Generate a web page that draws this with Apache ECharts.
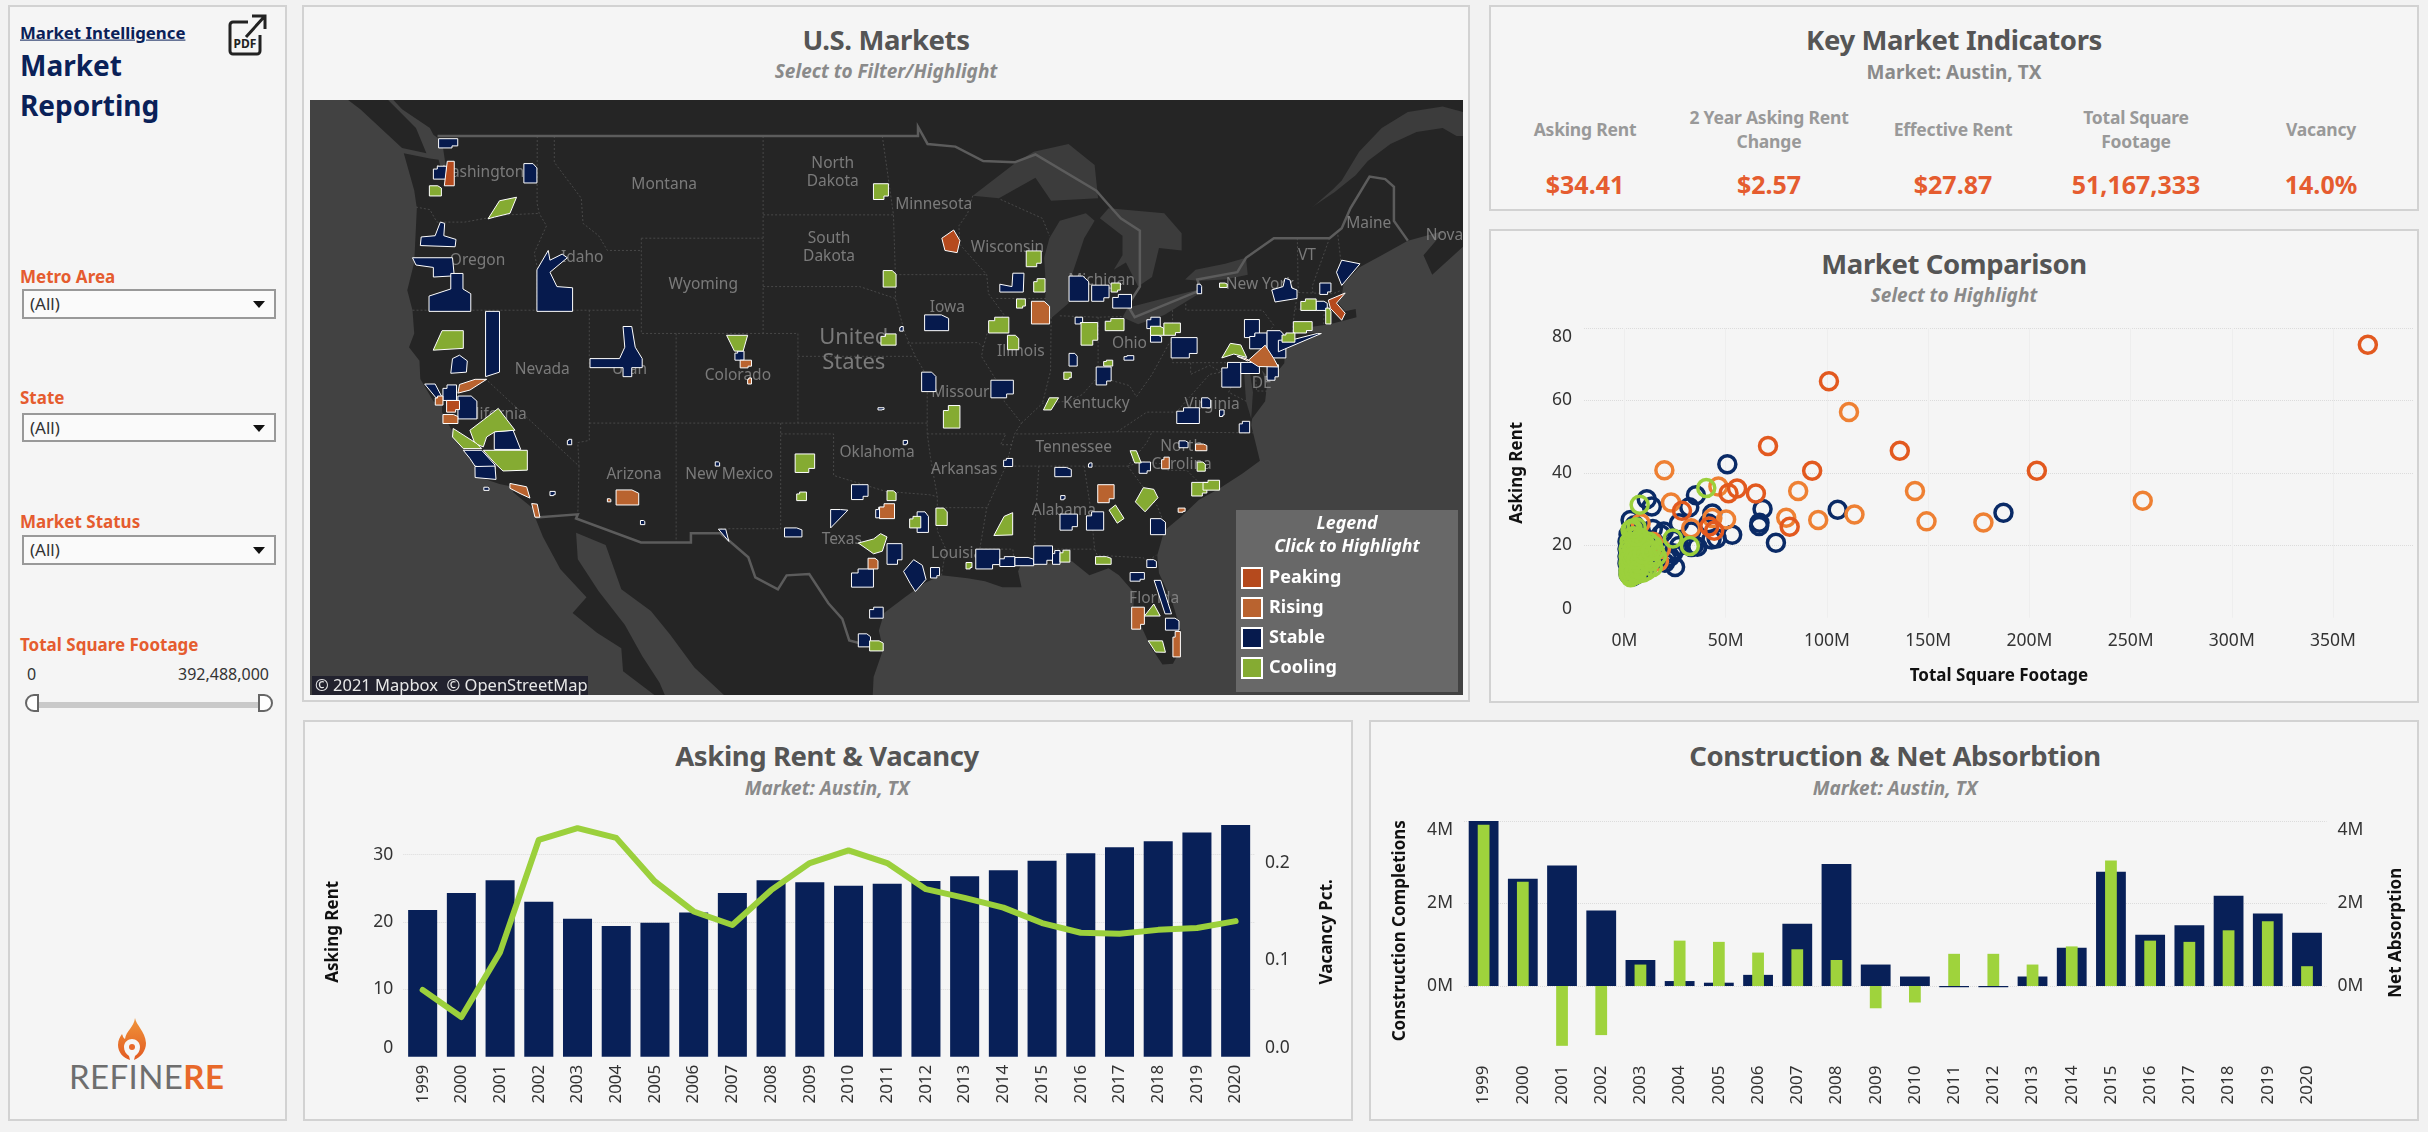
<!DOCTYPE html>
<html>
<head>
<meta charset="utf-8">
<title>Market Reporting</title>
<script src="https://cdn.jsdelivr.net/npm/echarts@6/dist/echarts.min.js"></script>
<style>
  html, body { margin: 0; padding: 0; background: #f2f2f2; }
  body { width: 2428px; height: 1132px; position: relative; overflow: hidden; font-family: "Noto Sans", sans-serif; }
  .panel { position: absolute; box-sizing: border-box; background: #f5f5f5; border: 2px solid #d2d2d2; }
  .t { position: absolute; white-space: nowrap; line-height: 1; }
  .c { text-align: center; transform: translate(-50%, -50%); }
  .l { transform: translateY(-50%); }
  .title { font-size: 27.5px; font-weight: 700; color: #555; letter-spacing: -0.4px; }
  .sub { font-size: 19px; font-weight: 700; color: #8a8a8a; }
  .it { font-style: italic; }
  .kl { font-size: 17.5px; font-weight: 700; color: #999; line-height: 24px; letter-spacing: -0.2px; }
  .kv { font-size: 25px; font-weight: 700; color: #e55c2f; }
  .flt { font-size: 17px; font-weight: 700; color: #e55c2f; }
  .sel { position: absolute; left: 22px; width: 254px; box-sizing: border-box; background: #fafafa; border: 2px solid #999; font-size: 17px; color: #333; padding-left: 6px; }
  .sel i { position: absolute; right: 9px; top: 50%; margin-top: -3px; border: 6px solid transparent; border-top: 7px solid #111; border-bottom: 0; }
  #dash { position: absolute; left: 0; top: 0; width: 2428px; height: 1132px; }
</style>
</head>
<body>

<div class="panel" style="left:8px;top:5px;width:279px;height:1116px"></div>
<div class="panel" style="left:302px;top:5px;width:1168px;height:697px"></div>
<div class="panel" style="left:1489px;top:5px;width:930px;height:206px"></div>
<div class="panel" style="left:1489px;top:229px;width:930px;height:474px"></div>
<div class="panel" style="left:303px;top:720px;width:1050px;height:401px"></div>
<div class="panel" style="left:1369px;top:720px;width:1050px;height:401px"></div>

<div class="t l" style="left:20px;top:33px;font-size:16.8px;font-weight:700;color:#0a2158;text-decoration:underline">Market Intelligence</div>
<div class="t l" style="left:20px;top:65px;font-size:28px;font-weight:700;color:#0a2158">Market</div>
<div class="t l" style="left:20px;top:105px;font-size:28px;font-weight:700;color:#0a2158">Reporting</div>
<svg style="position:absolute;left:228px;top:13px" width="40" height="44" viewBox="0 0 40 44">
  <path d="M20 9H5a3 3 0 0 0-3 3v26a3 3 0 0 0 3 3h24a3 3 0 0 0 3-3V22" fill="none" stroke="#222" stroke-width="3"/>
  <path d="M18 24L36 4M24 3h13v13" fill="none" stroke="#222" stroke-width="3"/>
  <text x="17" y="35" text-anchor="middle" font-size="12" font-weight="700" font-family="Noto Sans" fill="#222">PDF</text>
</svg>

<div class="t l flt" style="left:20px;top:276px">Metro Area</div>
<div class="sel" style="top:289px;height:30px;line-height:26px">(All)<i></i></div>
<div class="t l flt" style="left:20px;top:397px">State</div>
<div class="sel" style="top:413px;height:29px;line-height:25px">(All)<i></i></div>
<div class="t l flt" style="left:20px;top:521px">Market Status</div>
<div class="sel" style="top:535px;height:30px;line-height:26px">(All)<i></i></div>
<div class="t l flt" style="left:20px;top:644px">Total Square Footage</div>
<div class="t l" style="left:27px;top:674px;font-size:16px;color:#333">0</div>
<div class="t l" style="right:2159px;top:674px;font-size:16px;color:#333">392,488,000</div>
<div style="position:absolute;left:39px;top:702px;width:220px;height:6px;background:#c9c9c9"></div>
<div style="position:absolute;left:25px;top:694px;width:14px;height:18px;box-sizing:border-box;background:#fff;border:2px solid #666;border-radius:9px 0 0 9px"></div>
<div style="position:absolute;left:258px;top:694px;width:15px;height:18px;box-sizing:border-box;background:#fff;border:2px solid #666;border-radius:0 9px 9px 0"></div>

<svg style="position:absolute;left:116px;top:1017px" width="32" height="44" viewBox="0 0 32 44">
  <defs><linearGradient id="fl" x1="0" y1="0" x2="0" y2="1"><stop offset="0" stop-color="#f0953a"/><stop offset="1" stop-color="#e25a22"/></linearGradient></defs>
  <path d="M19 1c1 7 10 13 11 25 0 8-5 14-12 17l1-4c3-2 5-5 5-9 0-5-4-8-8-8s-8 3-8 8c0 4 2 7 5 9l1 4C7 41 2 35 2 28c0-5 2-8 4-11 1 2 1 4 3 5 1-8 9-12 10-21z" fill="url(#fl)"/>
  <circle cx="16" cy="30" r="3" fill="#e8692a"/>
</svg>
<div class="t" style="left:69px;top:1060px;font-size:33px;font-family:Lato;letter-spacing:0.4px;color:#6e6e6e">REFINE<span style="font-weight:700;color:#e8692a">RE</span></div>

<div class="t c title" style="left:886px;top:40px">U.S. Markets</div>
<div class="t c sub it" style="left:886px;top:71px">Select to Filter/Highlight</div>
<div class="t c title" style="left:1954px;top:40px">Key Market Indicators</div>
<div class="t c sub" style="left:1954px;top:72px">Market: Austin, TX</div>
<div class="t c title" style="left:1954px;top:264px">Market Comparison</div>
<div class="t c sub it" style="left:1954px;top:295px">Select to Highlight</div>
<div class="t c title" style="left:827px;top:756px">Asking Rent &amp; Vacancy</div>
<div class="t c sub it" style="left:827px;top:788px">Market: Austin, TX</div>
<div class="t c title" style="left:1895px;top:756px">Construction &amp; Net Absorbtion</div>
<div class="t c sub it" style="left:1895px;top:788px">Market: Austin, TX</div>

<div id="kpis"></div>
<div id="dash"></div>

<script type="text/javascript">
// key market indicators
var kpiLabels = ['Asking Rent', '2 Year Asking Rent<br>Change', 'Effective Rent', 'Total Square<br>Footage', 'Vacancy'];
var kpiValues = ['$34.41', '$2.57', '$27.87', '51,167,333', '14.0%'];
var kpiCenters = [1585, 1769, 1953, 2136, 2321];

// time series, Austin TX
var years = ['1999','2000','2001','2002','2003','2004','2005','2006','2007','2008','2009','2010','2011','2012','2013','2014','2015','2016','2017','2018','2019','2020'];
var askingRent = [21.8,24.3,26.2,23,20.5,19.4,19.9,21.4,24.3,26.2,25.9,25.4,25.7,26.1,26.8,27.7,29.1,30.2,31.1,32,33.3,34.41];
var vacancy = [.069,.041,.108,.224,.236,.226,.181,.15,.136,.172,.2,.213,.2,.173,.164,.154,.138,.128,.127,.131,.133,.14];
var completions = [4,2.6,2.92,1.83,.63,.12,.08,.27,1.51,2.96,.52,.23,-.03,-.03,.23,.93,2.77,1.24,1.47,2.19,1.76,1.29];
var absorption = [3.91,2.53,-1.45,-1.19,.52,1.1,1.07,.81,.89,.63,-.54,-.4,.78,.78,.52,.96,3.04,1.1,1.07,1.35,1.57,.48];

// market comparison: [total sq ft in millions, asking rent]
var sqftTicks = [0,50,100,150,200,250,300,350];
var cmpStable = [[50.8,42.4],[35.3,33.8],[32,30.5],[11,32.7],[13.5,30.7],[68.2,30],[66.7,26.2],[66.5,25.3],[105.3,29.8],[187.2,29],[74.8,20.7],[53.2,22.9],[43.4,28.8],[45.5,21.9],[43,21.6],[41.5,26],[34.4,20.1],[33,19.5],[23.9,21.5],[19.4,23.8],[26.9,26.1],[32.9,23.8],[3,27],[5,25.5],[20.9,16.4],[20,15.2],[15,20.6],[17.9,18.7],[24,17.8],[22.5,16.8],[27,19.8],[36,19.6],[16,16],[12,14.5],[10,22],[8,24],[2,23],[1.5,21],[1.5,19],[1.5,17],[1.5,15],[2,13],[2,12],[3,11.6],[4,11.4],[6,12],[8,13],[10,15],[12,18],[13,20],[9,19],[7,17],[5,15],[4,13],[3,20],[4,22],[6,24],[14,24.5],[18,23],[25,14]];
var cmpRising = [[110.9,56.8],[19.7,40.7],[85.8,35],[143.5,35],[23,31.8],[256,32.3],[113.6,28.5],[95.7,27],[79.9,27.6],[149.2,26.6],[177.3,26.3],[50.2,27.1],[43.4,27.5],[32.9,24.7],[8,26.1],[46.4,36.2],[14,21],[18,19],[17,15.5]];
var cmpPeaking = [[367.2,75.4],[101,65.3],[70.9,47.4],[136,46.1],[92.7,40.6],[203.7,40.6],[64.9,34.3],[55.6,35.7],[51.4,34.4],[28.4,29.5],[81.6,25.1],[41.9,25.2],[44.3,24]];
var cmpCooling = [[40.4,35.8],[7.5,31.2],[23.9,21.9],[32.3,19.8],[3,24.2],[6,25],[8,22],[12,21],[14,20],[15,18.5],[16,17],[13,15.5],[14,14],[11,13],[9,12.4],[6,12],[4,11.6],[3,11.2],[2,12],[2,13],[2,15],[2,17],[2,19],[2.5,21],[4,22.5],[5,21],[6,19.5],[7,18],[8,16.5],[9,15],[10,17],[11,19],[3,17],[4,15.5],[5,14],[6,13],[3,13],[2.5,16],[4,19],[7,15],[8,20],[10,20.5],[5,17],[12,16.5],[6,16],[5,12.6],[7,13.4],[9,17.6],[6,22.4],[4,24.6],[13,18.4]];

// map frame and base geography, all lon/lat
var frame = [[-130.09,23.56],[-63.83,23.56],[-63.83,50.34],[-130.09,50.34]];
var landRing = [[-125.3,50.34],[-124.8,50],[-123.2,49.3],[-123,49.05],[-122.5,48.8],[-122.3,47.9],[-122.4,47.4],[-122.7,48.1],[-123.2,48.15],[-124.7,48.35],[-124.1,46.9],[-123.95,46.2],[-124.1,44],[-124.5,42.85],[-124.2,42],[-124.1,41],[-124.4,40.4],[-123.8,39.8],[-123.75,39],[-123,38],[-122.5,37.8],[-122.5,37.5],[-121.9,36.6],[-120.65,35.15],[-120.6,34.55],[-119.2,34.15],[-118.5,34.03],[-118.4,33.75],[-117.3,33],[-117.15,32.55],[-116.7,31.6],[-115.7,30],[-114.2,28.6],[-115,27.8],[-113.6,26.8],[-112.2,26],[-112.1,24.8],[-110.3,23.56],[-109.7,23.56],[-110,24.2],[-111,25.6],[-112,27.2],[-113.5,28.9],[-114.7,30.5],[-114.8,31.8],[-113.1,31.2],[-112.2,29],[-110.5,27.9],[-109.4,26.7],[-108,25],[-106.3,23.56],[-97.75,23.56],[-97.7,24.5],[-97.15,25.95],[-97.4,26.9],[-97.1,27.8],[-95.9,28.6],[-94.8,29.3],[-93.8,29.7],[-92.3,29.55],[-91.3,29.4],[-90.3,29.1],[-89.2,29.1],[-89.4,29.9],[-89.2,30.3],[-88,30.25],[-86.3,30.4],[-85.3,29.7],[-84.2,30.05],[-83.6,29.7],[-82.7,28.8],[-82.8,27.9],[-82.2,26.9],[-81.8,26.1],[-81.1,25.15],[-80.5,25.2],[-80.2,25.7],[-80.05,26.9],[-80.55,28.4],[-81.3,29.8],[-81.4,30.7],[-81,31.9],[-80,32.6],[-79,33.4],[-77.9,33.9],[-76.5,34.65],[-75.5,35.25],[-76,36.9],[-75.95,37.2],[-75.2,38],[-75.1,38.7],[-75.4,39.4],[-74.9,38.95],[-74.1,39.7],[-74.05,40.4],[-73.9,40.55],[-71.9,41.05],[-73.7,40.95],[-72.9,41.25],[-71.5,41.4],[-70.7,41.55],[-69.95,41.7],[-70,42.05],[-70.6,41.95],[-71,42.3],[-70.8,42.6],[-70.7,43.1],[-69.8,43.8],[-68.5,44.3],[-67,44.9],[-64.9,45.3],[-66.1,44.3],[-65.6,43.5],[-63.83,44.65],[-63.83,50.34]];
var islandRing = [[-123.4,48.35],[-124.8,48.55],[-127.2,50],[-127.9,50.34],[-125.6,50.34],[-124,49.3]];
var waterRings = [
  [[-92,46.7],[-90.5,46.6],[-88.4,47.4],[-87.5,46.5],[-84.8,46.6],[-85,47.9],[-86.5,48.7],[-88.5,48.4],[-89.5,48]],
  [[-87.9,41.7],[-87.5,41.65],[-86.5,42.3],[-86.3,43.5],[-85.6,45],[-85,45.7],[-85.5,46],[-87,45.7],[-87.6,45],[-87.9,44.2],[-87.8,43]],
  [[-84.7,45.8],[-83.4,45.1],[-83.4,44.3],[-83.9,43.7],[-83.2,44],[-82.5,43],[-81.7,43.4],[-81.3,44.6],[-80,44.5],[-80,45.2],[-81,46],[-84.2,46.2]],
  [[-83.4,41.7],[-82.5,41.4],[-81,41.8],[-79,42.7],[-78.9,42.9],[-80.5,42.6],[-83.1,42.1]],
  [[-79.8,43.3],[-79,43.25],[-77.5,43.3],[-76.2,43.5],[-76.3,44.2],[-77.5,43.95],[-79.2,43.7]],
  [[-72.6,46.2],[-71.2,46.85],[-70,47.5],[-69.3,48.05],[-68,48.7],[-66.5,49.15],[-65,49.3],[-64.2,49],[-63.83,49],[-63.83,49.9],[-65,50.1],[-67,49.9],[-68.5,49.3],[-69.8,48.4],[-70.8,47.3],[-71.3,46.95],[-72.3,46.35]],
  [[-76.3,38],[-76.4,39.2],[-76.1,39.4],[-75.9,38.4],[-76,37.2]]
];
var nationLines = [
  [[-122.76,49],[-95.15,49],[-95.15,49.35],[-94.6,48.7],[-93,48.6],[-91.4,48.05],[-89.6,48],[-88.4,48.3],[-84.9,46.9],[-84.4,46.5],[-83.5,45.8],[-82.4,45.3],[-82.4,43],[-83.1,42.2],[-82.7,41.7],[-78.9,42.85],[-79.1,43.3],[-76.8,43.6],[-76.3,44.2],[-74.7,45],[-71.5,45],[-70.8,45.4],[-70.3,46.2],[-69.2,47.45],[-68.3,47.35],[-67.8,47.05],[-67.8,45.7],[-67,44.9]],
  [[-117.1,32.55],[-114.7,32.7],[-114.8,32.5],[-111.07,31.33],[-108.2,31.33],[-108.2,31.78],[-106.5,31.78],[-104.9,30.6],[-104.5,29.6],[-103.2,29],[-102.7,29.7],[-101.4,29.77],[-100.3,28.3],[-99.5,27.5],[-99.1,26.4],[-97.15,25.95]]
];
var stateLines = [
  [[-124,46.25],[-123.2,46.15],[-122.8,45.65],[-121.2,45.65],[-119,45.93],[-116.92,46]],
  [[-117.03,49],[-117.04,46.4],[-116.92,46],[-116.5,45.5],[-117.2,44.4],[-117.03,43.8],[-117.03,42]],
  [[-116.05,49],[-116.05,48],[-114.5,46.6],[-114.4,45.6],[-113.5,45.1],[-113,44.5],[-111.05,44.5]],
  [[-104.05,49],[-104.05,41]],
  [[-111.05,45],[-104.05,45]],
  [[-111.05,45],[-111.05,41],[-102.05,41],[-102.05,37]],
  [[-124.2,42],[-111.05,42]],
  [[-114.04,42],[-114.04,36.2],[-114.7,36.1],[-114.63,35]],
  [[-109.05,41],[-109.05,31.33]],
  [[-114.04,37],[-94.62,37]],
  [[-104.05,43],[-98.5,43],[-96.45,42.5]],
  [[-104.05,45.94],[-96.56,45.94]],
  [[-97.2,49],[-96.56,45.94],[-96.45,43.5],[-96.45,42.5],[-95.9,41],[-95.3,40],[-94.62,39.1],[-94.62,36.5],[-94.43,35.4],[-94.04,33.55],[-94.04,31.9],[-93.55,31],[-93.8,29.7]],
  [[-96.45,43.5],[-91.2,43.5]],
  [[-95.77,40.58],[-91.7,40.6],[-91.4,40.4]],
  [[-102.05,40],[-95.3,40]],
  [[-103.04,37],[-103.04,32],[-106.6,32],[-106.5,31.78]],
  [[-103.04,36.5],[-100,36.5],[-100,34.56],[-97,33.8],[-94.48,33.64],[-94.04,33.55]],
  [[-120,42],[-120,39],[-114.63,35],[-114.7,32.7]],
  [[-92,46.7],[-92.3,46],[-92.8,45.5],[-92.75,44.75],[-91.2,43.5],[-91.1,42.7],[-90.2,41.8],[-91.1,41.2],[-91.4,40.4],[-91.5,40],[-90.7,39],[-90.2,38.7],[-90.2,38],[-89.2,37],[-89.6,36.5],[-90.1,35],[-91.2,33],[-91.6,31],[-89.7,31],[-89.6,30.2]],
  [[-90.65,42.5],[-87.8,42.5]],
  [[-90.4,46.55],[-88,45.8],[-87.6,45.1]],
  [[-87.5,41.7],[-87.53,39.35],[-88,37.9]],
  [[-89.2,37],[-88,37.9],[-86.5,38],[-85.7,38.3],[-84.8,39.1],[-83,38.7],[-82.6,38.2],[-81.7,39.2],[-80.7,40.6],[-80.52,40.64]],
  [[-84.8,41.7],[-84.8,39.1]],
  [[-87,41.76],[-84.8,41.7],[-83.45,41.73]],
  [[-80.52,42],[-80.52,39.72],[-75.79,39.72],[-75.7,38.46],[-75.05,38.45]],
  [[-79.76,42.27],[-79.76,42],[-75.35,42],[-74.7,41.35],[-75.1,40.95],[-75.2,40.6],[-74.7,40.15],[-75.55,39.6]],
  [[-73.35,45],[-73.3,42.75],[-73.5,42.05],[-73.65,41]],
  [[-73.3,42.75],[-71.3,42.7],[-70.8,42.85]],
  [[-73.5,42.05],[-71.4,42]],
  [[-71.5,45],[-72.5,43],[-72.45,42.73]],
  [[-71.05,45.3],[-70.7,43.1]],
  [[-71.8,42],[-71.85,41.3]],
  [[-89.5,36.5],[-88,36.5],[-83.7,36.6],[-81.7,36.6],[-75.9,36.55]],
  [[-83.7,36.6],[-82,37.5],[-80.3,37.5],[-78.4,39.2],[-77.7,39.3]],
  [[-79.48,39.72],[-79.48,39.2],[-78.4,39.6],[-77.7,39.3],[-77,38.9],[-77.3,38.4],[-76.3,38]],
  [[-90.3,35],[-83.1,35],[-82,36.1],[-81.7,36.6]],
  [[-83.1,35],[-82.3,35.2],[-81,35.1],[-80.8,34.8],[-79.7,34.8],[-78.55,33.85]],
  [[-83.1,35],[-81.4,33.1],[-80.9,32.05]],
  [[-85.6,35],[-85.2,32.8],[-85,31],[-84.85,30.7],[-82.2,30.57],[-82,30.4],[-81.45,30.7]],
  [[-88.2,35],[-88.45,31.9],[-88.4,30.3]],
  [[-87.6,31],[-85,31]],
  [[-87.6,31],[-87.45,30.35]],
  [[-94.62,36.5],[-90.1,36.5],[-90.4,36],[-89.7,36]],
  [[-94.04,33.02],[-91.2,33.02]]
];
var placeLabels = [['Washington',-120.29,47.6],['Montana',-109.74,47.13],['North\nDakota',-100.05,47.6],['Minnesota',-94.25,46.35],['South\nDakota',-100.26,44.6],['Wisconsin',-90.01,44.6],['Oregon',-120.46,44.1],['Idaho',-114.45,44.2],['Wyoming',-107.49,43.1],['Michigan',-84.6,43.25],['New York',-75.5,43.1],['VT',-72.8,44.3],['Maine',-69.25,45.6],['Nova',-64.9,45.1],['Iowa',-93.47,42.1],['Ohio',-83,40.55],['Illinois',-89.24,40.2],['Nevada',-116.74,39.4],['Utah',-111.73,39.4],['Colorado',-105.5,39.15],['Missouri',-92.6,38.4],['Kentucky',-84.9,37.9],['Virginia',-78.25,37.85],['California',-119.64,37.4],['DE',-75.4,38.8],['Oklahoma',-97.5,35.65],['Tennessee',-86.2,35.85],['North\nCarolina',-80,35.5],['Arizona',-111.47,34.6],['New Mexico',-106,34.6],['Arkansas',-92.5,34.85],['Alabama',-86.77,32.9],['Texas',-99.53,31.45],['Louisiana',-92.4,30.8],['Florida',-81.58,28.55]];
var countryLabel = ['United\nStates',-98.84,40.25];

// market footprints: four numbers are a box (west, south, east, north), more are an outline (lon, lat, ...)
var mapStable = [
  [-122.7,48.55,-121.6,48.9],[-123,47.35,-122.25,47.85],[-117.8,47.2,-117.05,47.95],
  [-122.9,45.1,-122.6,45.65,-122.35,45.6,-122.4,45.1,-121.7,44.95,-121.75,44.65,-123.75,44.7,-123.7,45.05],
  [-124.2,44.2,-121.9,44.2,-121.8,43.45,-123,43.4,-123,43.8,-124,43.9],
  [-123.25,41.95,-120.85,41.95,-120.85,42.7,-121.3,42.9,-121.3,43.55,-122,43.55,-122,42.9,-123.25,42.6],
  [-117.05,41.95,-115,41.95,-115,42.95,-115.9,43,-116.3,43.6,-115.3,44.2,-115.6,44.35,-116.3,44.1,-116.4,44.5,-117.05,43.7],
  [-120,41.95,-119.2,41.95,-119.2,39.3,-120,39.1],
  [-122,39.25,-121.1,39.3,-121.05,39.8,-121.5,40.05,-121.9,39.9],
  [-123.5,38.77,-122.9,38.77,-122.45,38.1,-122.85,38.15],[-122.45,38.03,-121.67,38.73],[-121.59,37.19,-120.5,38.23],
  [-119.5,36.6,-118.42,36.67,-117.98,35.78,-119.5,35.78],
  [-121.28,35.74,-120.22,35.74,-119.46,35.05,-119.46,34.85,-120.61,35,-120.9,35.36],
  [-120.61,34.98,-119.46,35,-119.4,34.37,-120.6,34.46],
  [-114,39.5,-112.1,39.5,-112.1,39.1,-111.6,39.1,-111.6,39.5,-111,39.5,-111,39.9,-111.4,40.4,-111.6,41.3,-112.1,41.3,-112,40.4,-112.3,39.9,-114,39.9],
  [-105.67,39.83,-105.15,40.23],[-94.94,38.43,-94.12,39.3],[-90.96,38.15,-89.67,38.94],
  [-90.45,42.77,-89.1,42.77,-89.06,43.56,-89.7,43.56,-89.75,43,-90.45,43.1],
  [-86.47,42.38,-85.34,43.44],[-85.17,42.38,-84.17,43.06],[-83.96,42.09,-82.88,42.67],[-94.77,41.12,-93.39,41.8],
  [-86.12,41.41,-85.69,41.7],[-83.31,39.83,-82.75,40.03],[-86.47,39.57,-86,40.13],[-84.91,38.73,-84.05,39.53],
  [-82,41.21,-81.23,41.7],[-81.79,40.62,-81.15,40.92],[-80.6,39.93,-79.11,40.82],
  [-74.82,42.86,-74.17,43,-74.06,43.35,-73.77,43.28,-73.67,42.94,-73.37,42.86,-73.37,42.5,-74.63,42.35],
  [-79.11,42.7,-78.85,43.1],[-72.06,42.67,-71.42,43.15],[-70.8,44.1,-69.75,43.95,-70.8,43.05,-71.1,43.6],
  [-72.27,41.99,-71.63,42.38],[-76.39,40.82,-75.53,41.6],[-76.09,40.33,-75.09,41.02],[-75.09,39.93,-74.01,41.12],
  [-74.44,40.2,-71.97,41,-72.2,41,-73.5,40.75,-74.44,40.7],
  [-77.69,38.63,-76.6,39.73],[-76.6,39.24,-75.53,39.73],[-75.09,38.94,-74.44,39.63],[-80.28,36.98,-78.98,37.7],
  [-78.85,37.7,-78.33,38.15],[-77.82,37.3,-77.56,37.6],[-76.69,36.55,-76.09,37.08],[-80.15,35.86,-79.63,36.18],
  [-82.44,34.66,-81.79,35.19],[-90.23,34.98,-89.71,35.36],[-87.29,34.5,-86.34,34.94],[-86.99,31.93,-85.99,32.71],
  [-85.47,31.93,-84.48,32.82],[-81.79,31.71,-80.93,32.49],[-98.97,33.41,-98.02,34.12],
  [-100.17,32.04,-99.18,32.9,-99.6,32.93,-100.17,32.93],[-102.82,31.6,-101.82,32.04],[-106.62,31.98,-106.02,31.38,-106.2,31.98],
  [-97.58,32.53,-97.02,33.04],[-95.2,31.82,-94.55,32.82],[-96.93,30.25,-96.07,31.27],[-98.97,29.11,-97.71,30.02],
  [-95.98,29.9,-95.4,30.48,-94.9,30.2,-94.69,29.5,-95.3,28.89,-95.6,29.3],
  [-94.43,29.57,-93.91,30.09],[-97.93,27.54,-97.15,28.1],[-98.58,26.07,-97.88,26.74],[-91.83,30.02,-90.45,31],
  [-90.45,30.14,-89.58,30.63],[-89.58,30.18,-88.5,30.59],[-88.5,30.25,-87.42,31.16],[-87.42,30.25,-86.99,30.93],
  [-82,30.09,-81.45,30.48],[-82.96,29.41,-82.14,29.84],[-81.58,29.45,-81.2,29.45,-80.58,27.76,-80.95,27.76],[-80.93,26.93,-80.15,27.54],
  [-97.45,37.6,-97.1,37.7],[-96.2,41.1,-96,41.3],[-106.8,35,-106.55,35.2],[-96,36,-95.75,36.2],[-115.3,36,-115.05,36.25],[-111.1,32.2,-110.85,32.4],
  [-86.95,33.4,-86.7,33.6],[-85.35,34.95,-85.15,35.15],[-120.1,33.85,-119.8,34],[-116.3,33.6,-116,33.8]
];
var mapRising = [
  [-121.59,38.36,-120.9,38.5,-119.94,38.98,-120.6,38.98,-121.5,38.75],
  [-122.89,37.82,-122.45,38.23],[-122.45,36.98,-121.59,37.39],
  [-118.6,34.18,-117.64,34.02,-117.45,33.48,-118.02,33.7,-118.6,33.95],[-117.35,33.22,-117.03,33.19,-116.88,32.56,-117.16,32.56],
  [-112.5,33.15,-111.2,33.87],[-105.37,39.49,-104.72,39.83],[-104.94,38.77,-104.72,39.04],[-88.63,41.41,-87.59,42.38],
  [-76.82,40,-76.2,39.8,-75.2,40.49,-74.7,39.9,-74.44,39.53,-75.6,39.55,-76.3,39.9],
  [-97.36,32.49,-96.5,33.21],[-98.02,30.02,-97.45,30.55],[-84.82,33.26,-83.88,34.12],[-81.15,34.87,-80.71,35.42],
  [-79.2,35.72,-78.55,36.03],[-82.87,26.98,-82.14,28.1],[-80.5,25.55,-80.07,26.86],[-113,33.3,-112.8,33.45],[-80.2,32.8,-79.8,33]
];
var mapPeaking = [
  [-93.78,45,-93.1,45.33,-92.74,44.9,-92.9,44.41,-93.6,44.5],
  [-122.37,47.09,-121.8,47.09,-121.8,48.04,-122.2,48.04],
  [-71.57,42.43,-70.6,42.73,-71.1,42.3,-70.6,41.87,-70.8,41.57,-71.45,42.08],
  [-122.24,37.5,-121.5,38.03]
];
var mapCooling = [
  [-97.71,46.55,-96.85,47.17],[-119.86,45.78,-119.2,46.5,-118.22,46.64,-118.6,46,-119.5,45.85],[-123.23,46.69,-122.54,47.09],
  [-88.93,43.83,-88.07,44.48],[-88.5,42.77,-87.85,43.33],[-97.15,42.98,-96.41,43.67],[-84.05,42.77,-83.52,43.15],
  [-73.15,41.99,-72.27,42.48],[-77.82,42.96,-77.38,43.15],[-89.49,42.09,-88.98,42.48],[-91.09,41.02,-89.93,41.7],
  [-90.01,40.29,-89.36,40.92],[-85.78,40.49,-84.82,41.47],[-84.39,41.12,-83.31,41.64],[-81.79,40.92,-81.02,41.31],
  [-81.02,40.92,-80.07,41.45],[-97.28,40.49,-96.41,40.98],[-106.15,40.92,-104.94,40.92,-105.2,40.23,-105.7,40.23],
  [-123.01,40.27,-121.28,40.35,-121.28,41.12,-122.5,41.12],
  [-119.27,37.67,-118.31,36.67,-119.46,36.6,-119.94,36.36,-120.13,35.9,-120.61,36.05,-120.9,36.67,-120.13,37.14],
  [-121.86,36.75,-120.5,36.05,-120.22,35.82,-121.28,35.82,-121.9,36.36],
  [-120.13,35.74,-117.6,35.74,-117.6,34.81,-119,34.77,-119.46,35.13],
  [-93.69,36.77,-92.74,37.8],[-87.94,37.6,-87.5,37.6,-87.07,38.15,-87.6,38.15],[-86.77,38.98,-86.34,39.3],[-84.48,39.57,-83.96,39.83],
  [-77.69,39.93,-77,40.1,-76.26,39.95,-76.6,40.5,-77.2,40.57],[-102.21,34.7,-101.09,35.57],[-102.12,33.36,-101.56,33.77],[-96.93,33.36,-96.41,33.83],
  [-98.58,31.3,-97.7,31.5,-97.3,31.76,-96.93,31.6,-97.2,30.9,-97.7,30.77],
  [-95.63,32.04,-94.99,32.6],[-94.12,32.16,-93.47,33],[-90.79,31.67,-89.71,31.7,-89.71,32.78,-90.2,32.6],[-86.99,30.36,-86.42,30.95],
  [-84.95,30.25,-84.05,30.63],[-82.66,33.3,-82.2,33.98,-81.6,33.9,-81.36,33.5,-82.1,32.82],[-84.17,32.9,-83.8,33.15,-83.31,32.5,-83.7,32.27],
  [-82.96,35.72,-82.6,35.72,-82.32,35.15,-82.7,35.15],[-79.42,33.58,-78.55,34.23],[-78.77,33.86,-77.82,34.33],[-79.11,34.76,-78.64,35.19],
  [-82.14,27.65,-81.23,27.65,-81.6,28.26],[-81.92,26.38,-81.5,25.8,-80.93,25.79,-81.1,26.38],[-97.93,25.86,-97.15,26.38],
  [-73.58,41.02,-72.5,41.51],[-74.23,40.62,-73.49,41.02],[-71.72,41.41,-71.42,42.09],[-92.39,30.02,-92.05,30.34]
];

function mercator(lat) {
  return Math.log(Math.tan(Math.PI / 4 + lat * Math.PI / 360)) * 180 / Math.PI;
}
function feature(name, ring) {
  return { type: 'Feature', properties: { name: name }, geometry: { type: 'Polygon', coordinates: [ring] } };
}
var features = [feature('sea', frame), feature('land', landRing), feature('island', islandRing)];
waterRings.forEach(function (r, i) { features.push(feature('water' + i, r)); });
echarts.registerMap('base', { type: 'FeatureCollection', features: features });

// outline for a market entry; boxes get a small clipped corner so they read as county blocks
function marketRing(m, i) {
  var pts = [], k;
  if (m.length === 4) {
    var dx = (m[2] - m[0]) * 0.3, dy = (m[3] - m[1]) * 0.22;
    if (i % 3 === 0) pts = [[m[0],m[1]],[m[2]-dx,m[1]],[m[2]-dx,m[1]+dy],[m[2],m[1]+dy],[m[2],m[3]],[m[0],m[3]]];
    else if (i % 3 === 1) pts = [[m[0],m[1]],[m[2],m[1]],[m[2],m[3]],[m[0]+dx,m[3]],[m[0]+dx,m[3]-dy],[m[0],m[3]-dy]];
    else pts = [[m[0],m[1]],[m[2],m[1]],[m[2],m[3]-dy],[m[2]-dx,m[3]],[m[0],m[3]]];
  } else {
    for (k = 0; k < m.length; k += 2) pts.push([m[k], m[k + 1]]);
  }
  return pts;
}
function marketSeries(name, color, shapes) {
  var rings = shapes.map(marketRing);
  return {
    name: name, type: 'custom', coordinateSystem: 'geo', z: 6, silent: true,
    itemStyle: { color: color },
    data: rings.map(function (r) { return [r[0][0], r[0][1]]; }),
    renderItem: function (params, api) {
      return {
        type: 'polygon',
        shape: { points: rings[params.dataIndex].map(function (p) { return api.coord(p); }) },
        style: { fill: color, stroke: '#fff', lineWidth: 1 }
      };
    }
  };
}
function ringSeries(name, color, data) {
  return {
    name: name, type: 'scatter', xAxisIndex: 0, yAxisIndex: 0, data: data, symbolSize: 17, z: 6,
    itemStyle: { color: 'transparent', borderColor: color, borderWidth: 3.5, opacity: 1 }
  };
}
function linesSeries(rows, color, width, type, z) {
  return {
    type: 'lines', coordinateSystem: 'geo', polyline: true, silent: true, z: z,
    lineStyle: { color: color, width: width, type: type, opacity: 1 },
    data: rows.map(function (r) { return { coords: r }; })
  };
}

var tickFont = { fontFamily: 'Noto Sans', fontSize: 17.5, color: '#333' };
var nameFont = { fontFamily: 'Noto Sans', fontSize: 17, fontWeight: 700, color: '#111' };
var dotted = { show: true, lineStyle: { color: '#dcdcdc', type: 'dotted', width: 1 } };
var noLine = { show: false };

function millions(v) { return v + 'M'; }

var option = {
  animation: false,
  geo: {
    map: 'base', silent: true, left: 310, top: 100, width: 1153, height: 595,
    projection: {
      project: function (p) { return [p[0], -mercator(p[1])]; },
      unproject: function (p) { return [p[0], 2 * Math.atan(Math.exp(-p[1] * Math.PI / 180)) * 180 / Math.PI - 90]; }
    },
    itemStyle: { areaColor: '#252525', borderWidth: 0 },
    emphasis: { disabled: true },
    regions: [{ name: 'sea', itemStyle: { areaColor: '#424242' } }].concat(waterRings.map(function (r, i) {
      return { name: 'water' + i, itemStyle: { areaColor: '#3c3c3c' } };
    }))
  },
  grid: [
    { left: 1584, top: 328, width: 830, height: 289.7 },
    { left: 403.3, top: 825, width: 851.7, height: 231.7 },
    { left: 1464, top: 821, width: 862.6, height: 247.5 },
    { left: 1464, top: 821, width: 862.6, height: 247.5 }
  ],
  xAxis: [
    {
      gridIndex: 0, type: 'value', min: -20, max: 390,
      name: 'Total Square Footage', nameLocation: 'middle', nameGap: 50, nameTextStyle: nameFont,
      axisLine: noLine, axisTick: { show: false, customValues: sqftTicks },
      axisLabel: Object.assign({ margin: 14, formatter: millions, customValues: sqftTicks }, tickFont),
      splitLine: { show: true, lineStyle: { color: '#eeeeee', width: 1 } }
    },
    {
      gridIndex: 1, type: 'category', data: years, axisLine: noLine, axisTick: noLine,
      axisLabel: Object.assign({ rotate: 90, margin: 8, interval: 0 }, tickFont, { fontSize: 17 })
    },
    {
      gridIndex: 2, type: 'category', data: years, position: 'bottom', axisLine: { show: false, onZero: false }, axisTick: noLine,
      axisLabel: Object.assign({ rotate: 90, margin: -3, interval: 0 }, tickFont, { fontSize: 17 })
    },
    { gridIndex: 3, type: 'category', data: years, show: false }
  ],
  yAxis: [
    {
      gridIndex: 0, type: 'value', min: 0, max: 80, interval: 20,
      name: 'Asking Rent', nameLocation: 'middle', nameGap: 58, nameRotate: 90, nameTextStyle: nameFont,
      axisLine: noLine, axisTick: noLine,
      axisLabel: Object.assign({ margin: 12, verticalAlignMinLabel: 'bottom', verticalAlignMaxLabel: 'top' }, tickFont),
      splitLine: { show: true, showMinLine: false, lineStyle: dotted.lineStyle }
    },
    {
      gridIndex: 1, type: 'value', min: 0, max: 34.41, interval: 10,
      name: 'Asking Rent', nameLocation: 'middle', nameGap: 62, nameRotate: 90, nameTextStyle: Object.assign({ padding: [0, 0, 0, 18] }, nameFont),
      axisLine: noLine, axisTick: noLine, showMaxLabel: false,
      axisLabel: Object.assign({ margin: 10, showMaxLabel: false, verticalAlignMinLabel: 'bottom' }, tickFont),
      splitLine: { show: true, showMinLine: false, showMaxLine: false, lineStyle: dotted.lineStyle }
    },
    {
      gridIndex: 1, type: 'value', position: 'right', min: 0, max: 0.2393, interval: 0.1,
      name: 'Vacancy Pct.', nameLocation: 'middle', nameGap: 64, nameRotate: 90, nameTextStyle: Object.assign({ padding: [0, 0, 0, 18] }, nameFont),
      axisLine: noLine, axisTick: noLine, splitLine: noLine, showMaxLabel: false,
      axisLabel: Object.assign({ margin: 10, showMaxLabel: false, verticalAlignMinLabel: 'bottom', formatter: function (v) { return v.toFixed(1); } }, tickFont)
    },
    {
      gridIndex: 2, type: 'value', min: -2, max: 4, interval: 2,
      name: 'Construction Completions', nameLocation: 'middle', nameGap: 55, nameRotate: 90, nameTextStyle: Object.assign({ padding: [0, 0, 0, 28] }, nameFont),
      axisLine: noLine, axisTick: noLine, showMinLabel: false,
      axisLabel: Object.assign({ margin: 11, showMinLabel: false, verticalAlignMaxLabel: 'top', formatter: millions }, tickFont),
      splitLine: { show: true, showMinLine: false, lineStyle: dotted.lineStyle }
    },
    {
      gridIndex: 3, type: 'value', position: 'right', min: -2, max: 4, interval: 2,
      name: 'Net Absorption', nameLocation: 'middle', nameGap: 61, nameRotate: 90, nameTextStyle: Object.assign({ padding: [0, 0, 0, 24] }, nameFont),
      axisLine: noLine, axisTick: noLine, splitLine: noLine, showMinLabel: false,
      axisLabel: Object.assign({ margin: 11, showMinLabel: false, verticalAlignMaxLabel: 'top', formatter: millions }, tickFont)
    }
  ],
  legend: {
    left: 1241, top: 567, padding: 0, orient: 'vertical', z: 60, selectedMode: false, itemWidth: 20, itemHeight: 20, itemGap: 8,
    itemStyle: { borderColor: '#fff', borderWidth: 2 },
    textStyle: { color: '#fff', fontFamily: 'Noto Sans', fontSize: 18, fontWeight: 700, padding: [0, 0, 0, 2] },
    data: [
      { name: 'Peaking', icon: 'rect' }, { name: 'Rising', icon: 'rect' },
      { name: 'Stable', icon: 'rect' }, { name: 'Cooling', icon: 'rect' }
    ]
  },
  graphic: [
    { type: 'rect', silent: true, z: 50, shape: { x: 1236, y: 510, width: 222, height: 182 }, style: { fill: '#686868' } },
    { type: 'text', silent: true, z: 51, x: 1347, y: 524, style: { text: 'Legend', fill: '#fff', font: 'italic 700 17.8px "Noto Sans"', textAlign: 'center', textVerticalAlign: 'middle' } },
    { type: 'text', silent: true, z: 51, x: 1347, y: 547, style: { text: 'Click to Highlight', fill: '#fff', font: 'italic 700 17.8px "Noto Sans"', textAlign: 'center', textVerticalAlign: 'middle' } },
    { type: 'rect', silent: true, z: 50, shape: { x: 312, y: 676, width: 276, height: 19 }, style: { fill: '#22222e' } },
    { type: 'text', silent: true, z: 51, x: 315, y: 686, style: { text: '© 2021 Mapbox  © OpenStreetMap', fill: '#e8e8e8', font: '16.5px "Noto Sans"', textVerticalAlign: 'middle' } }
  ],
  series: [
    linesSeries(stateLines, '#484848', 1, [2, 2], 2),
    linesSeries(nationLines, '#5c5c5c', 2.5, 'solid', 2),
    {
      type: 'scatter', coordinateSystem: 'geo', silent: true, z: 3, symbolSize: 0,
      label: { show: true, position: 'inside', formatter: '{b}', color: '#909090', fontFamily: 'Noto Sans', fontSize: 15.5, lineHeight: 18 },
      data: placeLabels.map(function (p) { return { name: p[0], value: [p[1], p[2]] }; }).concat([
        { name: countryLabel[0], value: [countryLabel[1], countryLabel[2]], label: { fontSize: 22, lineHeight: 25 } }
      ])
    },
    marketSeries('Stable', '#061a4d', mapStable),
    marketSeries('Rising', '#b9632f', mapRising),
    marketSeries('Peaking', '#b54a1d', mapPeaking),
    marketSeries('Cooling', '#85ab32', mapCooling),
    ringSeries('Stable', '#0a2a66', cmpStable),
    ringSeries('Rising', '#ee8033', cmpRising),
    ringSeries('Peaking', '#e2591f', cmpPeaking),
    ringSeries('Cooling', '#9bd03c', cmpCooling),
    { type: 'bar', xAxisIndex: 1, yAxisIndex: 1, data: askingRent, barWidth: '75%', itemStyle: { color: '#082058' }, z: 2 },
    { type: 'line', xAxisIndex: 1, yAxisIndex: 2, data: vacancy, showSymbol: false, lineStyle: { color: '#9bd03c', width: 6, cap: 'round', join: 'round' }, z: 4 },
    { type: 'bar', xAxisIndex: 2, yAxisIndex: 3, data: completions, barWidth: '76%', itemStyle: { color: '#082058' }, z: 2 },
    { type: 'bar', xAxisIndex: 3, yAxisIndex: 4, data: absorption, barWidth: '30%', itemStyle: { color: '#9fd33c' }, z: 4 }
  ]
};

var html = '';
kpiLabels.forEach(function (label, i) {
  html += '<div class="t c kl" style="left:' + kpiCenters[i] + 'px;top:129px">' + label + '</div>';
  html += '<div class="t c kv" style="left:' + kpiCenters[i] + 'px;top:184px">' + kpiValues[i] + '</div>';
});
document.getElementById('kpis').innerHTML = html;

var myChart = echarts.init(document.getElementById('dash'));
myChart.setOption(option);
</script>
</body>
</html>
